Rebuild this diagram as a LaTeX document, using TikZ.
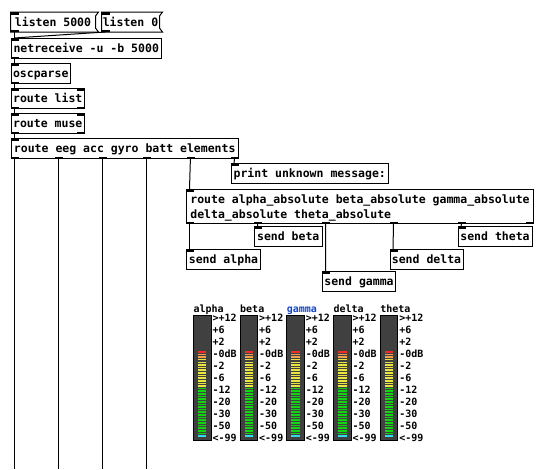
\documentclass[tikz,border=0pt]{standalone}
\usepackage{fontspec}
\setmonofont{DejaVu Sans Mono}
\usetikzlibrary{calc}

\definecolor{vugray}{RGB}{64,64,64}
\definecolor{vured}{RGB}{240,45,40}
\definecolor{vuorange}{RGB}{240,160,80}
\definecolor{vuyellow}{RGB}{232,228,64}
\definecolor{vugreen}{RGB}{20,212,20}
\definecolor{vucyan}{RGB}{48,220,232}
\definecolor{pdblue}{RGB}{20,70,200}

\newcommand\pdfont{\ttfamily\bfseries\fontsize{11.5}{15}\selectfont}
\newcommand\vufont{\ttfamily\bfseries\fontsize{10}{12}\selectfont}

% inlets and outlets: node, number of inlets, number of outlets
\newcommand\pdports[3]{%
  \coordinate (#1-tl) at (#1.north west);
  \coordinate (#1-tr) at ([xshift=-8pt]#1.north east);
  \coordinate (#1-bl) at (#1.south west);
  \coordinate (#1-br) at ([xshift=-8pt]#1.south east);
  \ifnum#2>0
    \pgfmathtruncatemacro\pdlast{#2-1}
    \foreach \k in {0,...,\pdlast}{
      \pgfmathsetmacro\f{\k/max(\pdlast,1)}
      \fill ($(#1-tl)!\f!(#1-tr)$) rectangle ++(8,2.5);
      \coordinate (#1-i\k) at ($(#1-tl)!\f!(#1-tr)+(3.5,0)$);
    }
  \fi
  \ifnum#3>0
    \pgfmathtruncatemacro\pdlast{#3-1}
    \foreach \k in {0,...,\pdlast}{
      \pgfmathsetmacro\f{\k/max(\pdlast,1)}
      \fill ($(#1-bl)!\f!(#1-br)$) rectangle ++(8,-2.5);
      \coordinate (#1-o\k) at ($(#1-bl)!\f!(#1-br)+(3.5,0)$);
    }
  \fi
}

% message box outline with the flag on the right
\newcommand\pdflag[1]{%
  \draw[line width=1pt] (#1.north west) -- ([xshift=3pt]#1.north east)
    -- ([yshift=-4pt]#1.north east) -- ([yshift=4pt]#1.south east)
    -- ([xshift=3pt]#1.south east) -- (#1.south west) -- cycle;
}

\begin{document}
\begin{tikzpicture}[x=1pt, y=-1pt,
    pdobj/.style={draw, line width=1pt, anchor=north west, inner xsep=0.5pt,
      inner ysep=0pt, text height=14.3pt, text depth=5.7pt, font=\pdfont,
      execute at begin node={\spaceskip=0.602em\relax\xspaceskip=0.602em\relax}},
    pdmsg/.style={pdobj, draw=none, text depth=4.7pt},
    pdwire/.style={line width=1pt},
    vulabel/.style={anchor=base west, inner sep=0pt, font=\vufont},
    vuscale/.style={anchor=base west, inner sep=0pt, font=\vufont}]
    \path[fill=white, use as bounding box] (0,0) rectangle (552,469);
    \coordinate (bottom) at (0,469);

    % Messages
    \node[pdmsg, minimum width=84pt] (l5000) at (10.5,12) {listen 5000};
    \node[pdmsg, minimum width=57pt] (l0) at (101.5,12) {listen 0};
    \pdflag{l5000}
    \pdflag{l0}

    % Objects
    \node[pdobj, minimum width=150.5pt] (netrecv) at (10.5,38) {netreceive -u -b 5000};
    \node[pdobj, minimum width=59.5pt] (osc) at (10.5,63) {oscparse};
    \node[pdobj, minimum width=73.5pt] (rlist) at (10.5,88) {route list};
    \node[pdobj, minimum width=73.5pt] (rmuse) at (10.5,113) {route muse};
    \node[pdobj, minimum width=227.5pt] (reeg) at (10.5,138) {route eeg acc gyro batt elements};
    \node[pdobj, minimum width=157.5pt] (print) at (230.5,163) {print unknown message:};
    \node[pdobj, minimum width=347pt, align=left, text height=29.3pt, text depth=4.7pt] (ralpha) at (186,189)
        {route alpha\_absolute beta\_absolute gamma\_absolute\\delta\_absolute theta\_absolute};
    \node[pdobj, minimum width=74pt, text depth=5.2pt] (salpha) at (186,249) {send alpha};
    \node[pdobj, minimum width=67.5pt] (sbeta) at (254,226) {send beta};
    \node[pdobj, minimum width=73pt] (sgamma) at (322,271) {send gamma};
    \node[pdobj, minimum width=73pt, text depth=5.2pt] (sdelta) at (389.5,249) {send delta};
    \node[pdobj, minimum width=74pt] (stheta) at (457.5,226) {send theta};

    \pdports{l5000}{1}{1}
    \pdports{l0}{1}{1}
    \pdports{netrecv}{1}{1}
    \pdports{osc}{1}{1}
    \pdports{rlist}{2}{2}
    \pdports{rmuse}{2}{2}
    \pdports{reeg}{1}{6}
    \pdports{print}{1}{0}
    \pdports{ralpha}{1}{6}
    \pdports{salpha}{1}{0}
    \pdports{sbeta}{1}{0}
    \pdports{sgamma}{1}{0}
    \pdports{sdelta}{1}{0}
    \pdports{stheta}{1}{0}

    % Connections
    \draw[pdwire] (l5000-o0) -- (netrecv-i0);
    \draw[pdwire] (l0-o0) -- (netrecv-i0);
    \draw[pdwire] (netrecv-o0) -- (osc-i0);
    \draw[pdwire] (osc-o0) -- (rlist-i0);
    \draw[pdwire] (rlist-o0) -- (rmuse-i0);
    \draw[pdwire] (rmuse-o0) -- (reeg-i0);
    \foreach \k in {0,...,3}
        \draw[pdwire] (reeg-o\k) -- (reeg-o\k |- bottom);
    \draw[pdwire] (reeg-o4) -- (ralpha-i0);
    \draw[pdwire] (reeg-o5) -- (print-i0);
    \draw[pdwire] (ralpha-o0) -- (salpha-i0);
    \draw[pdwire] (ralpha-o1) -- (sbeta-i0);
    \draw[pdwire] (ralpha-o2) -- (sgamma-i0);
    \draw[pdwire] (ralpha-o3) -- (sdelta-i0);
    \draw[pdwire] (ralpha-o4) -- (stheta-i0);

    % VU meters
    \foreach \lbl/\col [count=\m from 0] in {alpha/black, beta/black, gamma/pdblue, delta/black, theta/black}{
        \pgfmathsetmacro\mx{193.3+46.7*\m}
        \node[vulabel, text=\col] (vu\lbl) at (\mx,312) {\lbl};
        \filldraw[fill=vugray, line width=1pt] (\mx,315) rectangle ++(17.7,125);
        \foreach \i in {0,...,32}{
            \ifnum\i=0 \def\lc{vured}\else
            \ifnum\i<3 \def\lc{vuorange}\else
            \ifnum\i<14 \def\lc{vuyellow}\else
            \ifnum\i<32 \def\lc{vugreen}\else \def\lc{vucyan}\fi\fi\fi\fi
            \fill[\lc] (\mx+4.6,351+2.63*\i) rectangle ++(8.5,1.6);
        }
        \foreach \s [count=\j from 0] in {>+12,+6,+2,-0dB,-2,-6,-12,-20,-30,-50,<-99}
            \node[vuscale] (vu\lbl-\j) at (\mx+19,321.5+12*\j) {\s};
    }
\end{tikzpicture}
\end{document}
